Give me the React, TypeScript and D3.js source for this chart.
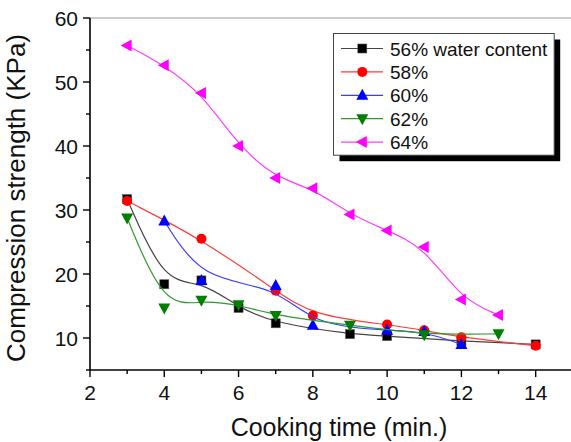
import * as d3 from 'd3';

const W = 571;
const H = 442;

const xTicks = [2, 4, 6, 8, 10, 12, 14];
const xMinor = [3, 5, 7, 9, 11, 13, 15];
const yTicks = [10, 20, 30, 40, 50, 60];
const yMinor = [5, 15, 25, 35, 45, 55];

const x56 = [3, 4, 5, 6, 7, 9, 10, 12, 14];
const y56 = [31.7, 18.4, 19.0, 14.7, 12.3, 10.6, 10.3, 9.5, 9.0];
const x58 = [3, 5, 7, 8, 10, 11, 12, 14];
const y58 = [31.4, 25.5, 17.4, 13.5, 12.1, 11.2, 10.1, 8.8];
const x60 = [4, 5, 7, 8, 10, 11, 12];
const y60 = [28.3, 19.0, 18.2, 12.0, 11.2, 11.0, 9.0];
const x62 = [3, 4, 5, 6, 7, 9, 11, 13];
const y62 = [28.75, 14.7, 15.9, 15.2, 13.5, 12.0, 10.5, 10.65];
const x64 = [3, 4, 5, 6, 7, 8, 9, 10, 11, 12, 13];
const y64 = [55.7, 52.6, 48.3, 40.0, 35.0, 33.4, 29.3, 26.8, 24.2, 16.0, 13.6];

const series = [
  { label: '56% water content', xs: x56, ys: y56, color: '#000000', line: '#444444', marker: 'square' },
  { label: '58%', xs: x58, ys: y58, color: '#ff0000', line: '#ff3b3b', marker: 'circle' },
  { label: '60%', xs: x60, ys: y60, color: '#0000ff', line: '#3b3bff', marker: 'up' },
  { label: '62%', xs: x62, ys: y62, color: '#007f00', line: '#2e9a2e', marker: 'down' },
  { label: '64%', xs: x64, ys: y64, color: '#ff00ff', line: '#ff3bff', marker: 'left' },
];

const FONT = 'Liberation Sans, Arial, sans-serif';

const x = d3.scaleLinear().domain([2, 15]).range([90, 90 + 13 * 37.14]);
const y = d3.scaleLinear().domain([5, 60]).range([370, 18]);

function Marker({ type, cx, cy, color }: { type: string; cx: number; cy: number; color: string }) {
  if (type === 'square') return <rect x={cx - 4.5} y={cy - 4.5} width={9} height={9} fill={color} stroke="#555" strokeWidth={0.6} />;
  if (type === 'circle') return <circle cx={cx} cy={cy} r={5} fill={color} />;
  let pts: number[][] = [];
  if (type === 'up') pts = [[cx, cy - 6.5], [cx + 6, cy + 4.5], [cx - 6, cy + 4.5]];
  if (type === 'down') pts = [[cx, cy + 6.5], [cx + 6, cy - 4.5], [cx - 6, cy - 4.5]];
  if (type === 'left') pts = [[cx - 6.5, cy], [cx + 4.5, cy - 6], [cx + 4.5, cy + 6]];
  return <polygon points={pts.map((p) => p.join(',')).join(' ')} fill={color} />;
}

export default function App() {
  const line = d3
    .line<[number, number]>()
    .x((d) => x(d[0]))
    .y((d) => y(d[1]))
    .curve(d3.curveBasis);

  const x0 = x(2);
  const y0 = y(5);

  return (
    <svg
      width={W}
      height={H}
      style={{ position: 'absolute', left: 0, top: 0, background: '#fff' }}
      fontFamily={FONT}
    >
      {/* frame top */}
      <line x1={x0} y1={y(60)} x2={W} y2={y(60)} stroke="#999" strokeWidth={1.2} />

      {/* series */}
      {series.map((s) => {
        const pts = s.xs.map((v, i) => [v, s.ys[i]] as [number, number]);
        return (
          <g key={s.label}>
            <path d={line(pts) || ''} fill="none" stroke={s.line} strokeWidth={1.2} />
            {pts.map((p, i) => (
              <Marker key={i} type={s.marker} cx={x(p[0])} cy={y(p[1])} color={s.color} />
            ))}
          </g>
        );
      })}

      {/* axes */}
      <line x1={x0} y1={y0} x2={W} y2={y0} stroke="#000" strokeWidth={1.6} />
      <line x1={x0} y1={y0} x2={x0} y2={y(60)} stroke="#000" strokeWidth={1.6} />
      {xTicks.map((t) => (
        <g key={'xt' + t}>
          <line x1={x(t)} y1={y0} x2={x(t)} y2={y0 + 7} stroke="#000" strokeWidth={1.4} />
          <text x={x(t)} y={y0 + 29.5} fontSize={21} textAnchor="middle" fill="#111">
            {t}
          </text>
        </g>
      ))}
      {xMinor.map((t) => (
        <line key={'xm' + t} x1={x(t)} y1={y0} x2={x(t)} y2={y0 + 4} stroke="#000" strokeWidth={1.4} />
      ))}
      {yTicks.map((t) => (
        <g key={'yt' + t}>
          <line x1={x0} y1={y(t)} x2={x0 - 7} y2={y(t)} stroke="#000" strokeWidth={1.4} />
          <text x={x0 - 12} y={y(t) + 7.5} fontSize={21} textAnchor="end" fill="#111">
            {t}
          </text>
        </g>
      ))}
      {yMinor.map((t) => (
        <line key={'ym' + t} x1={x0} y1={y(t)} x2={x0 - 4} y2={y(t)} stroke="#000" strokeWidth={1.4} />
      ))}

      {/* axis titles */}
      <text x={339} y={436} fontSize={25} textAnchor="middle" fill="#111">
        Cooking time (min.)
      </text>
      <text
        transform={`translate(25,198) rotate(-90)`}
        fontSize={26}
        textAnchor="middle"
        fill="#111"
      >
        Compression strength (KPa)
      </text>

      {/* legend */}
      <g>
        <rect x={339.5} y={39.5} width={220.7} height={121.7} fill="#000" />
        <rect x={333.5} y={33.5} width={220.7} height={121.7} fill="#fff" stroke="#444" strokeWidth={1} />
        {series.map((s, i) => {
          const ly = 48.5 + i * 23.4;
          return (
            <g key={'lg' + s.label}>
              <line x1={341} y1={ly} x2={383} y2={ly} stroke={s.line} strokeWidth={1.2} />
              <Marker type={s.marker} cx={362.3} cy={ly} color={s.color} />
              <text x={390} y={ly + 7} fontSize={19} fill="#111">
                {s.label}
              </text>
            </g>
          );
        })}
      </g>
    </svg>
  );
}
